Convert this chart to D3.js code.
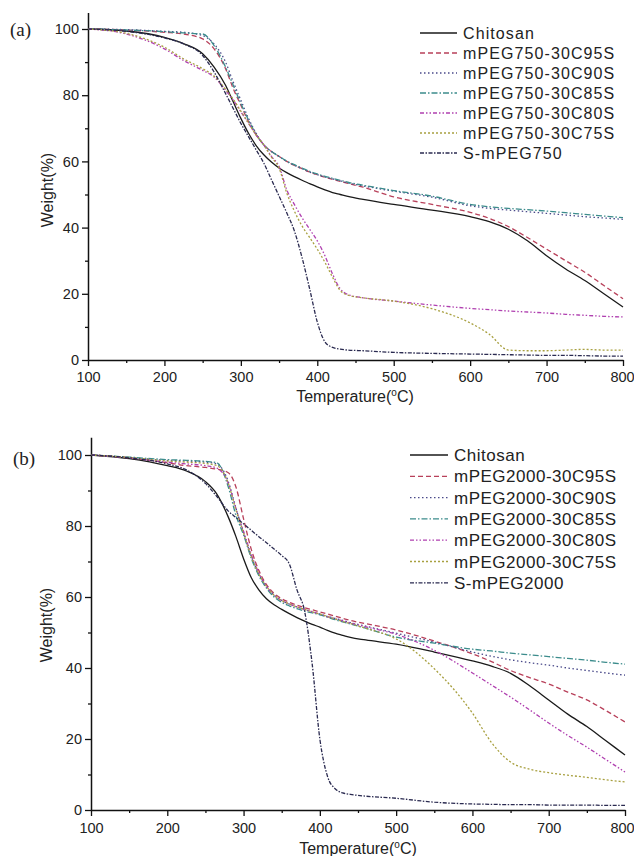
<!DOCTYPE html>
<html>
<head>
<meta charset="utf-8">
<script src="https://cdn.jsdelivr.net/npm/d3@7"></script>
<style>
  body { margin: 0; background: #fff; }
  svg { display: block; font-family: "Liberation Sans", Arial, sans-serif; }
  .domain { stroke: #111; stroke-width: 1.5; }
  .tick line { stroke: #111; stroke-width: 1.3; }
</style>
</head>
<body>
<svg id="chart" width="634" height="856"></svg>
<script>
// temperature grid shared by every curve (deg C)
var temps = [100,150,200,225,250,265,280,290,300,310,320,330,340,350,360,370,380,390,400,410,420,430,440,460,500,550,600,625,650,675,700,725,750,775,800];

// ---- panel (a): mPEG750 series, weight %
var namesA = ["Chitosan","mPEG750-30C95S","mPEG750-30C90S","mPEG750-30C85S","mPEG750-30C80S","mPEG750-30C75S","S-mPEG750"];
var chitosanA = [100,99.4,97.5,95.6,92.5,88.5,83,78,73,68.5,64.8,62,59.8,58,56.6,55.4,54.3,53.3,52.3,51.4,50.6,50,49.4,48.5,47,45.3,43.3,41.8,39.5,36,31.5,27.5,24,20,16];
var c95A = [100,99.7,99,98.5,97,94,88,82,77,72,68,65,63,61.5,60,58.8,57.8,56.8,56,55.2,54.6,54,53.4,52.2,49.3,47,44.6,42.8,40.3,37,33.5,30,26.5,22.5,18.5];
var c90A = [100,99.8,99.3,99,98,95.5,90,84,78.5,73,68.5,65,63,61.5,60,58.8,57.8,56.8,56,55.3,54.7,54.1,53.5,52.6,51,49.2,46.6,45.8,45.3,44.8,44.3,43.8,43.3,42.9,42.5];
var c85A = [100,99.7,99.2,98.8,98.5,95,88.5,83,77.5,72.5,68.2,65,63,61.5,60.1,59,58,57,56.2,55.5,54.9,54.3,53.7,52.8,51.2,49.5,47,46.3,45.8,45.4,45,44.5,44,43.5,43];
var c80A = [100,98.5,94,90.5,87.5,85.5,81.5,78.5,75,71.5,68,65,61.5,58.5,51.5,47,43,39.5,36,31.5,26,21.5,19.8,18.8,17.8,16.6,15.6,15.2,14.8,14.5,14.2,13.8,13.5,13.2,13];
var c75A = [100,98.7,94.5,91,88,85.8,81.8,78.8,75.2,71.6,68,65,61.3,58,50.5,45,40.5,37,33.5,29.5,25,21,19.6,18.8,17.8,15.5,11.2,7.8,3,2.8,2.8,3,3.2,3,3];
var sPegA = [100,99.3,97.3,95.5,92,87,80.5,76,71.5,67.5,63.5,59.5,54.5,49.5,44.5,39,31,21.5,11.5,5.5,3.8,3.3,3,2.8,2.3,2,1.8,1.7,1.6,1.5,1.4,1.4,1.3,1.2,1.2];

// ---- panel (b): mPEG2000 series, weight %
var namesB = ["Chitosan","mPEG2000-30C95S","mPEG2000-30C90S","mPEG2000-30C85S","mPEG2000-30C80S","mPEG2000-30C75S","S-mPEG2000"];
var chitosanB = [100,99,97,95.5,92.5,89,82.5,77,70.8,65.5,62,59.5,57.8,56.5,55.3,54.2,53.2,52.3,51.5,50.6,49.8,49.2,48.6,47.9,46.7,44.5,42,40.5,38.5,35,31,27,23.5,19.5,15.5];
var c95B = [100,99.2,97.8,97,96.5,96,95,91,82,73.5,67.5,63.5,61,59.5,58.5,57.7,57,56.4,55.8,55.2,54.6,54,53.4,52.5,50.7,47.6,44,41.8,39.3,37.3,35.5,33.2,31,28,24.8];
var c90B = [100,99.3,98.5,98.3,98,97.5,92.5,85,78,71.5,66.5,63,60.5,59,58,57.2,56.5,55.8,55.2,54.5,54,53.4,52.8,51.8,49.8,47.3,44.5,43.3,42.3,41.5,40.8,40,39.3,38.6,38];
var c85B = [100,99.4,98.7,98.5,98.2,97.8,91,83,77.5,71,66,62.5,60,58.5,57.5,56.7,56,55.5,55,54.3,53.6,53,52.4,51.2,48.7,47,45.3,44.8,44.2,43.7,43.2,42.7,42.2,41.6,41.1];
var c80B = [100,99.2,98,97.5,97,96.3,92,85,78.5,72,66.8,63,60.5,59,58,57.2,56.5,55.8,55.2,54.5,53.9,53.3,52.7,51.6,49.5,45,38.6,35.2,31.8,28.2,24.5,21,17.7,14.2,10.7];
var c75B = [100,99.3,98.3,98,97.6,97,92,84.5,78,71.5,66.5,63,60.5,59,58,57.2,56.5,55.8,55.2,54.5,53.8,53.1,52.5,51.2,48.2,39.8,27.3,19,13.5,11.5,10.5,9.8,9.2,8.5,7.9];
var sPegB = [100,99.2,97.5,95.8,92,88.3,84.2,82.4,80.6,78.8,77,75.3,73.5,71.7,69.3,62,56,41,20,9.5,6,4.8,4.4,3.9,3.3,2.2,1.7,1.6,1.5,1.5,1.4,1.4,1.4,1.3,1.3];

var xTicks = [100,200,300,400,500,600,700,800];
var yTicks = [0,20,40,60,80,100];

// line styles, same order as the legend
var colors = ["#1a1a1a","#b8405a","#4a4a8a","#3c8c8c","#b040b0","#a8a040","#2a2a50"];
var dashes = ["none","5,3","1.5,2.5","6,2,1.5,2","4,2,1.5,2,1.5,2","2,2","4,1.5,1.5,1.5"];

var svg = d3.select("#chart");
svg.append("rect").attr("width",634).attr("height",856).attr("fill","#fff");

function drawPanel(p){
	var x = d3.scaleLinear().domain([100,800]).range([p.left,p.right]);
	var y = d3.scaleLinear().domain([0,105]).range([p.bottom, p.bottom - 105*p.k]);
	var g = svg.append("g");

	// minor ticks
	g.append("g").attr("transform","translate(0,"+p.bottom+")")
		.call(d3.axisBottom(x).tickValues(d3.range(150,800,100)).tickSize(3).tickFormat(""))
		.select(".domain").remove();
	g.append("g").attr("transform","translate("+p.left+",0)")
		.call(d3.axisLeft(y).tickValues(d3.range(10,100,20)).tickSize(3).tickFormat(""))
		.select(".domain").remove();

	// major axes
	var xa = g.append("g").attr("transform","translate(0,"+p.bottom+")")
		.call(d3.axisBottom(x).tickValues(xTicks).tickSize(6).tickSizeOuter(0).tickPadding(p.xpad));
	var ya = g.append("g").attr("transform","translate("+p.left+",0)")
		.call(d3.axisLeft(y).tickValues(yTicks).tickSize(6).tickSizeOuter(0).tickPadding(3));
	[xa,ya].forEach(function(a){
		a.selectAll("text").attr("font-size",14.5).attr("fill","#222")
			.attr("font-family","Liberation Sans, Arial, sans-serif");
	});
	// keep the last x label inside the page
	xa.selectAll("text").filter(function(d){ return d === 800; }).attr("dx",p.lastShift);

	// curves
	var line = d3.line()
		.x(function(d,i){ return x(temps[i]); })
		.y(function(d){ return y(d); })
		.curve(d3.curveMonotoneX);
	p.series.forEach(function(s,i){
		g.append("path").attr("d",line(s)).attr("fill","none")
			.attr("stroke",colors[i]).attr("stroke-width",1.3)
			.attr("stroke-dasharray",dashes[i]);
	});

	// legend
	p.names.forEach(function(n,i){
		var ly = p.legY + i*p.legStep;
		g.append("line").attr("x1",p.legX).attr("x2",p.legX+p.legLen)
			.attr("y1",ly).attr("y2",ly)
			.attr("stroke",colors[i]).attr("stroke-width",1.3)
			.attr("stroke-dasharray",dashes[i]);
		g.append("text").attr("x",p.legX+p.legLen+6).attr("y",ly).attr("dy","0.36em")
			.attr("font-size",p.legFont).attr("letter-spacing",p.legSpace).attr("fill","#222").text(n);
	});

	// axis titles
	g.append("text").attr("transform","translate("+p.ylabX+","+p.ylabY+") rotate(-90)")
		.attr("text-anchor","middle").attr("font-size",16).attr("fill","#222").text("Weight(%)");
	var t = g.append("text").attr("x",p.xlabX).attr("y",p.xlabY)
		.attr("text-anchor","middle").attr("font-size",16).attr("fill","#222");
	t.append("tspan").text("Temperature(");
	t.append("tspan").attr("font-size",10).attr("dy",-6).text("o");
	t.append("tspan").attr("dy",6).text("C)");

	// panel letter
	g.append("text").attr("x",p.tagX).attr("y",p.tagY)
		.attr("font-family","Liberation Serif, Times New Roman, serif")
		.attr("font-size",19).attr("fill","#222").text(p.tag);
}

drawPanel({
	left:88, right:623, bottom:360, k:3.31, xpad:6, lastShift:-1,
	series:[chitosanA,c95A,c90A,c85A,c80A,c75A,sPegA], names:namesA,
	legX:420, legLen:37, legY:33, legStep:20, legFont:16, legSpace:1.1,
	ylabX:53, ylabY:190, xlabX:355, xlabY:402,
	tag:"(a)", tagX:10, tagY:36
});

drawPanel({
	left:91, right:625, bottom:810, k:3.55, xpad:7, lastShift:-3,
	series:[chitosanB,c95B,c90B,c85B,c80B,c75B,sPegB], names:namesB,
	legX:410, legLen:38, legY:455, legStep:21.3, legFont:17, legSpace:0.5,
	ylabX:52, ylabY:625, xlabX:358, xlabY:854,
	tag:"(b)", tagX:13, tagY:465
});
</script>
</body>
</html>
